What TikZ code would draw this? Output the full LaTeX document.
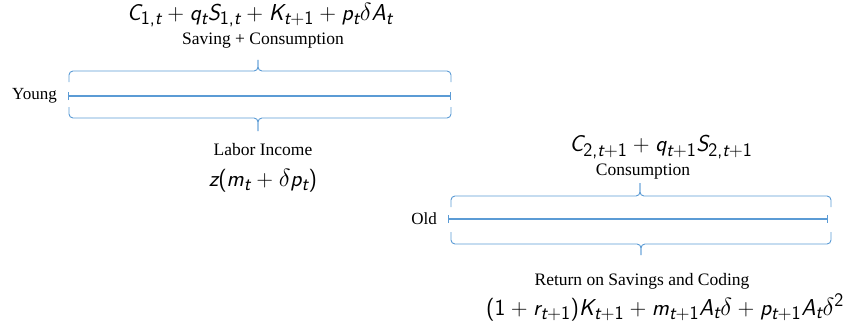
\documentclass[tikz,border=0pt]{standalone}
\usepackage[no-math]{fontspec}
\setmainfont{Liberation Serif}
\renewcommand{\familydefault}{\sfdefault}
\usepackage[italic]{mathastext}
\renewcommand{\familydefault}{\rmdefault}
\usepackage{tikz}
\usetikzlibrary{arrows.meta, positioning}
\definecolor{lineblue}{RGB}{91,155,213}
\tikzset{
  timeline/.style={{Bar[width=8pt]}-{Bar[width=8pt]}, line width=1.3pt, color=lineblue},
  bracepart/.style={line width=0.9pt, color=lineblue, rounded corners=4pt},
  agelabel/.style={font=\fontsize{17}{20}\selectfont, inner sep=0pt},
  wordlabel/.style={font=\fontsize{17.5}{20}\selectfont, inner sep=0pt},
  mathlabel/.style={font=\fontsize{23}{26}\selectfont, inner sep=0pt}
}

\begin{document}
\normalfont
\begin{tikzpicture}[x=1pt, y=-1pt]
  \useasboundingbox (0,0) rectangle (862,329);

  % young generation
  \coordinate (ys) at (68,96);
  \coordinate (ye) at (451,96);
  \node[agelabel, left=11pt of ys] (young) {Young};
  \draw[timeline] (ys) -- (ye);
  \draw[bracepart] (69,82) |- (258,71) -- (258,60);
  \draw[bracepart] (451,82) |- (258,71) -- (258,60);
  \draw[bracepart] (69,107) |- (258,118) -- (258,131);
  \draw[bracepart] (451,107) |- (258,118) -- (258,131);
  \node[wordlabel] (ysave) at (263,41) {Saving + Consumption};
  \node[mathlabel] (yspend) at (260,15) {$C_{1,t}+q_tS_{1,t}+K_{t+1}+p_t\delta A_t$};
  \node[wordlabel] (ylabor) at (263,150) {Labor Income};
  \node[mathlabel] (yincome) at (263,181) {$z(m_t+\delta p_t)$};

  % old generation
  \coordinate (os) at (448,219);
  \coordinate (oe) at (828,219);
  \node[agelabel, left=11pt of os] (old) {Old};
  \draw[timeline] (os) -- (oe);
  \draw[bracepart] (451,207) |- (640,196) -- (640,183);
  \draw[bracepart] (831,207) |- (640,196) -- (640,183);
  \draw[bracepart] (451,232) |- (641,244) -- (641,255);
  \draw[bracepart] (831,232) |- (641,244) -- (641,255);
  \node[mathlabel] (ospend) at (661,147) {$C_{2,t+1}+q_{t+1}S_{2,t+1}$};
  \node[wordlabel] (ocons) at (643,172) {Consumption};
  \node[wordlabel] (oreturn) at (642,281) {Return on Savings and Coding};
  \node[mathlabel] (oincome) at (665,307) {$(1+r_{t+1})K_{t+1}+m_{t+1}A_t\delta+p_{t+1}A_t\delta^2$};
\end{tikzpicture}
\end{document}
